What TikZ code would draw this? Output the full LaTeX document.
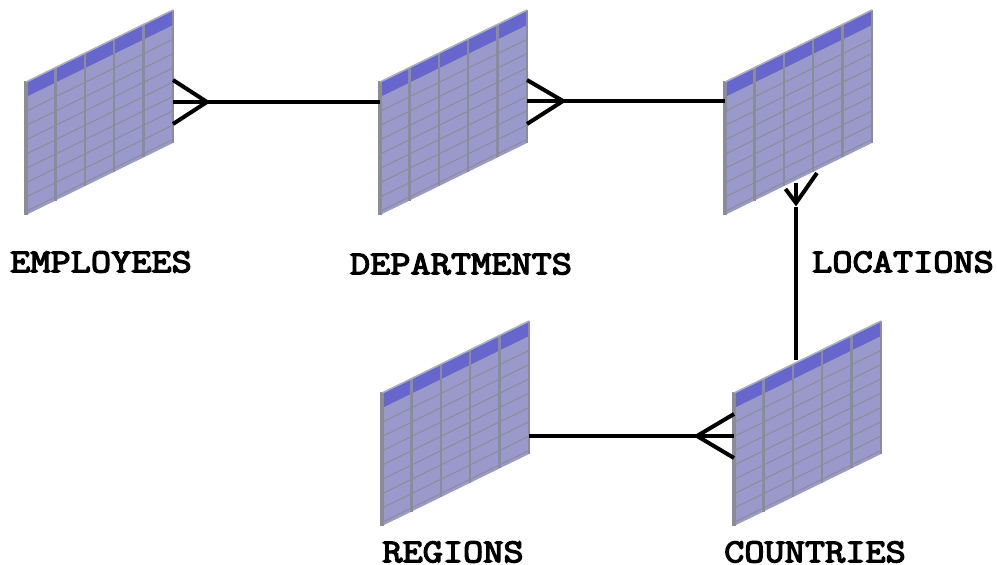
\documentclass[tikz,border=0pt]{standalone}
\usepackage{fontspec}
\newfontfamily\labelfont[FakeBold=4,FakeStretch=1.17]{Latin Modern Mono}
\definecolor{cellfill}{HTML}{9999CC}
\definecolor{headfill}{HTML}{6666CC}
\definecolor{gridgrey}{HTML}{8C8C98}
\tikzset{
  tablebox/.style={minimum width=147pt,minimum height=205pt,inner sep=0pt,outer sep=0pt},
  label/.style={font=\labelfont\fontsize{33.5}{36}\selectfont,inner sep=0pt,text=black},
  rel/.style={line width=4pt,black},
  gridline/.style={line width=1pt,gridgrey},
  colline/.style={line width=2.4pt,gridgrey},
  edgeline/.style={line width=3.5pt,gridgrey},
}
% #1 name, #2 x of top-left corner, #3 image y of top-left corner
\newcommand\dbtable[3]{
  \begin{scope}[shift={(#2,565-#3)}]
    \fill[cellfill] (0,0) -- (147,72) -- (147,-61) -- (0,-133) -- cycle;
    \fill[headfill] (0,-1) -- (147,71) -- (147,57) -- (0,-15) -- cycle;
    \foreach \r in {1,...,8}{
      \draw[gridline] (0,{-15-\r*14.3}) -- (147,{57-\r*14.3});
    }
    \foreach \c in {1,2,3,4}{
      \draw[colline] ({\c*29.4},{\c*14.4}) -- ({\c*29.4},{-133+\c*14.4});
    }
    \draw[edgeline] (0,1) -- (0,-133);
    \draw[colline] (147,72) -- (147,-61);
    \draw[line width=1.5pt,gridgrey!70!white] (0,0) -- (147,72);
    \node[tablebox] (#1) at (73.5,-30.5) {};
  \end{scope}
}
\begin{document}
\begin{tikzpicture}[x=1pt,y=1pt]
  \useasboundingbox (0,0) rectangle (997,565);
  \fill[white] (0,0) rectangle (997,565);
  \dbtable{emp}{26}{82}
  \dbtable{dept}{380}{82}
  \dbtable{loc}{725}{82}
  \dbtable{reg}{382}{393}
  \dbtable{cty}{734}{393}

  \node[label] (lemp) at (101,303) {EMPLOYEES};
  \node[label] (ldept) at (461,301) {DEPARTMENTS};
  \node[label] (lloc) at (903,303) {LOCATIONS};
  \node[label] (lreg) at (453,13) {REGIONS};
  \node[label] (lcty) at (815,13) {COUNTRIES};

  % employees >-- departments
  \coordinate (t1) at ([shift={(34,10.5)}]emp.east);
  \draw[rel] ([yshift=10.5]emp.east) -- ([yshift=10.5]dept.west);
  \draw[rel] ([yshift=32.5]emp.east) -- (t1) -- ([yshift=-11.5]emp.east);
  % departments >-- locations
  \coordinate (t2) at ([shift={(36,11.5)}]dept.east);
  \draw[rel] ([yshift=11.5]dept.east) -- ([yshift=11.5]loc.west);
  \draw[rel] ([yshift=32.5]dept.east) -- (t2) -- ([yshift=-11.5]dept.east);
  % locations foot and line to countries
  \coordinate (t3) at ([shift={(-2.5,12)}]loc.south);
  \coordinate (v3) at (t3 |- cty.north);
  \draw[rel] ([shift={(-10.5,14)}]t3) -- (t3) -- ([shift={(21,30)}]t3);
  \draw[rel] ([yshift=20]t3) -- (t3);
  \draw[rel] ([yshift=-4]t3) -- ([yshift=-39]v3);
  % regions --< countries
  \coordinate (t4) at ([shift={(-37,-12.5)}]cty.west);
  \draw[rel] ([yshift=-12.5]reg.east) -- ([yshift=-12.5]cty.west);
  \draw[rel] ([yshift=9.5]cty.west) -- (t4) -- ([yshift=-34.5]cty.west);
\end{tikzpicture}
\end{document}
